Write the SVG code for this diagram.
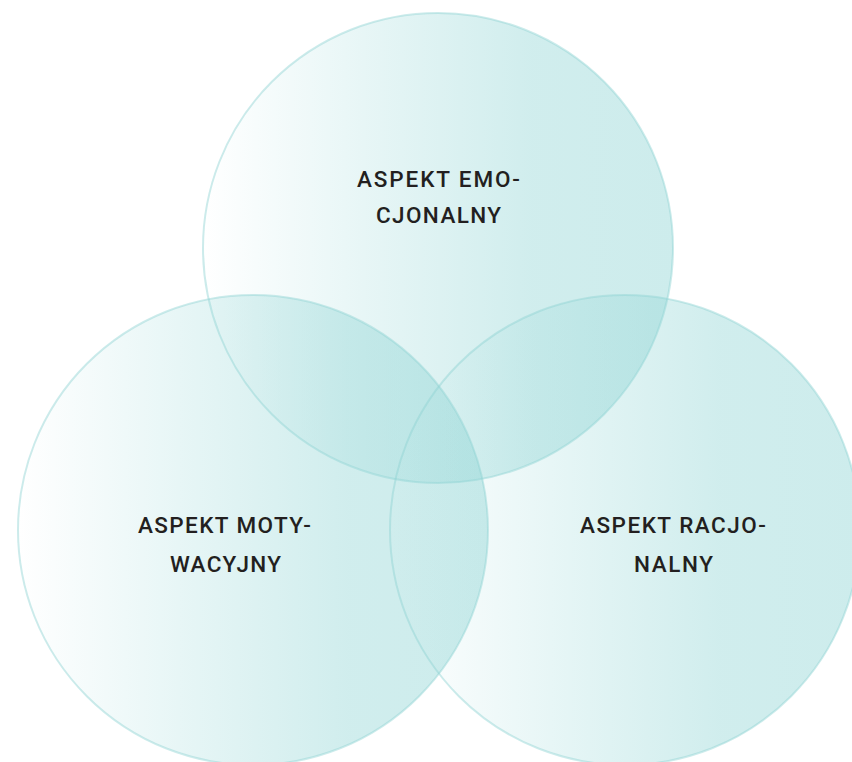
<svg xmlns="http://www.w3.org/2000/svg" width="852" height="762" viewBox="0 0 852 762">
<defs>
<linearGradient id="g" x1="0" y1="0" x2="1" y2="0">
<stop offset="0" stop-color="#90d5d5" stop-opacity="0"/>
<stop offset="0.35" stop-color="#90d5d5" stop-opacity="0.22"/>
<stop offset="0.7" stop-color="#90d5d5" stop-opacity="0.42"/>
<stop offset="1" stop-color="#90d5d5" stop-opacity="0.45"/>
</linearGradient>
<style>
.c{fill:url(#g);stroke:#8fd2d3;stroke-opacity:0.45;stroke-width:2}
.t{font-family:Roboto,"Liberation Sans",Arial,sans-serif;font-size:22.5px;font-weight:500;fill:#231f20}
</style>
</defs>
<rect width="852" height="762" fill="#ffffff"/>
<g id="emocjonalny">
<circle class="c" cx="438" cy="248" r="235"/>
<text class="t" x="357" y="187" textLength="163">ASPEKT EMO-</text>
<text class="t" x="376" y="223" textLength="125">CJONALNY</text>
</g>
<g id="motywacyjny">
<circle class="c" cx="253" cy="530" r="235"/>
<text class="t" x="138" y="533" textLength="173">ASPEKT MOTY-</text>
<text class="t" x="170" y="571.5" textLength="111">WACYJNY</text>
</g>
<g id="racjonalny">
<circle class="c" cx="625" cy="530" r="235"/>
<text class="t" x="580" y="533" textLength="186">ASPEKT RACJO-</text>
<text class="t" x="634" y="572" textLength="79">NALNY</text>
</g>
<g id="connectors"/>
</svg>
